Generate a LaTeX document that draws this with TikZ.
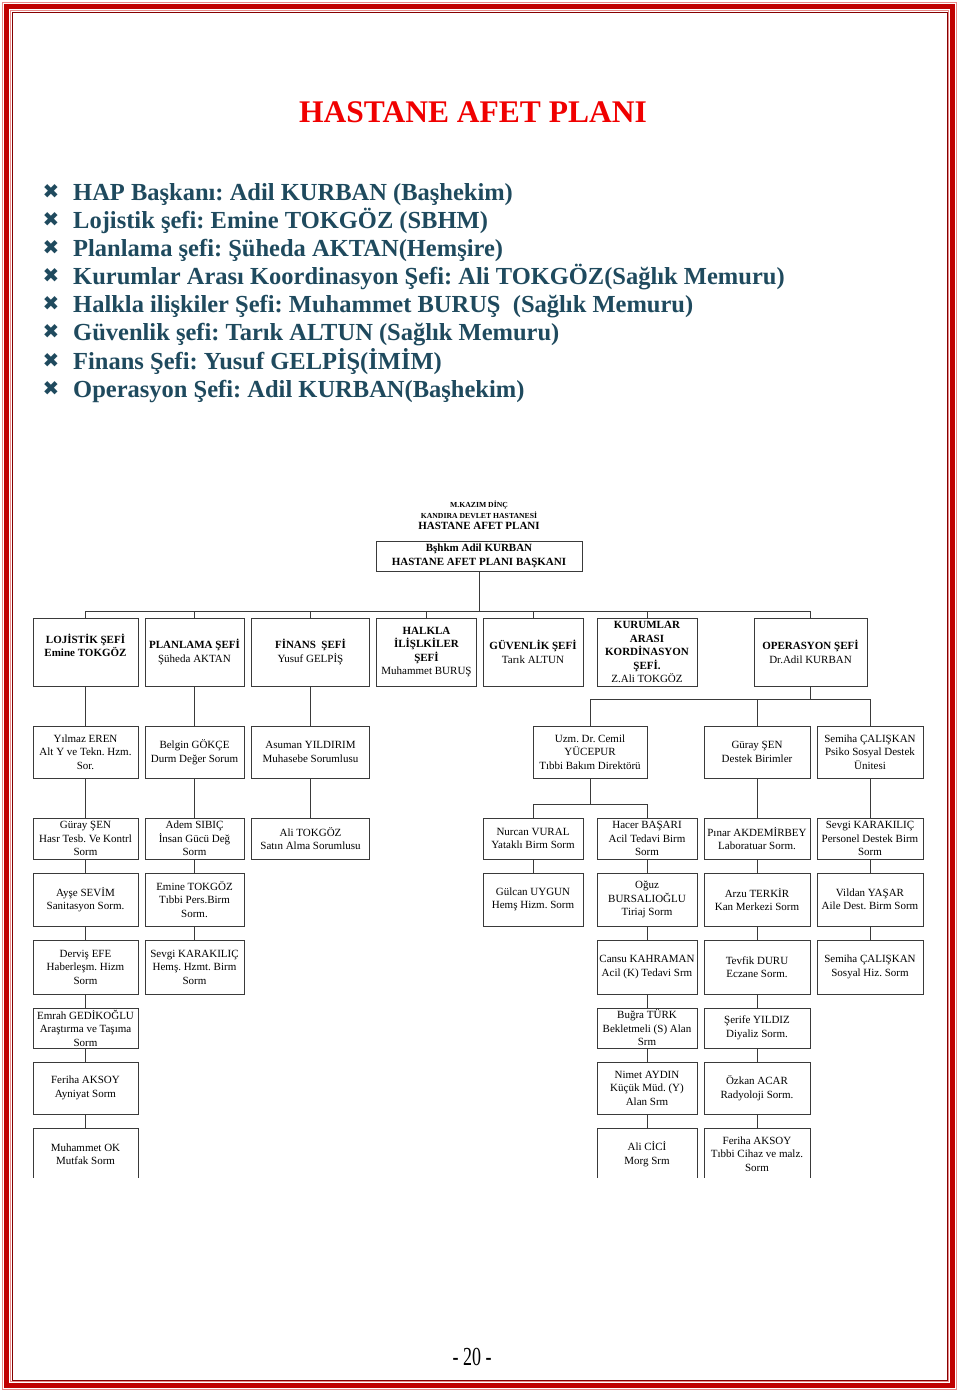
\documentclass[tikz,border=0pt]{standalone}
\usepackage{fontspec}
\setmainfont{Liberation Serif}
\newfontfamily\isaret{DejaVu Sans}
\usetikzlibrary{positioning}
\frenchspacing

\definecolor{cerceve}{HTML}{C00000}
\definecolor{pembe}{HTML}{E88A8A}
\definecolor{koyu}{HTML}{1F4A5E}
\definecolor{cizgi}{HTML}{3A3A3A}
\definecolor{baslikrenk}{HTML}{F00000}

\begin{document}
\begin{tikzpicture}[x=1pt, y=-1pt,
    kutu/.style 2 args={draw=cizgi, line width=0.8pt, align=center, inner sep=0pt,
        minimum width=#1, minimum height=#2, font=\fontsize{11}{13.5}\selectfont},
    bag/.style={draw=cizgi, line width=0.8pt},
    madde/.style={anchor=base west, inner sep=0pt, text=koyu,
        font=\fontsize{24.5}{28}\selectfont\bfseries}]
  \useasboundingbox (0,0) rectangle (960,1396);

  % sayfa cercevesi
  \draw[pembe, line width=1pt] (2.5,2.5) rectangle (956.5,1389.5);
  \draw[cerceve, line width=5pt] (6.5,6.5) rectangle (952.5,1385.5);
  \draw[pembe, line width=1.2pt] (10.5,10.5) rectangle (948.5,1381.5);
  \draw[cerceve!70!black, line width=0.5pt] (12,12) rectangle (947,1380);

  % baslik ve maddeler
  \node[text=baslikrenk, font=\fontsize{31.5}{31.5}\selectfont\bfseries] (baslik) at (473,112) {HASTANE AFET PLANI};
  \foreach \t [count=\i] in {HAP Başkanı: Adil KURBAN (Başhekim),
      Lojistik şefi: Emine TOKGÖZ (SBHM),
      Planlama şefi: Şüheda AKTAN(Hemşire),
      Kurumlar Arası Koordinasyon Şefi: Ali TOKGÖZ(Sağlık Memuru),
      Halkla ilişkiler Şefi: Muhammet BURUŞ\ \ (Sağlık Memuru),
      Güvenlik şefi: Tarık ALTUN (Sağlık Memuru),
      Finans Şefi: Yusuf GELPİŞ(İMİM),
      Operasyon Şefi: Adil KURBAN(Başhekim)} {
    \node[madde] (madde\i) at (73,172+28.15*\i) {\t};
    \node[anchor=base, inner sep=0pt, text=koyu, font=\isaret\fontsize{20}{20}\selectfont]
      (isaret\i) at (51,170+28.15*\i) {✖};
  }

  % teskilat semasi
  \node[kutu={206}{30}, font=\fontsize{11}{13.5}\selectfont\bfseries] (baskan) at (479,556)
    {Bşhkm Adil KURBAN\\HASTANE AFET PLANI BAŞKANI};
  \node[inner sep=0pt, font=\fontsize{11}{11}\selectfont\bfseries, above=11pt of baskan] (plan) {HASTANE AFET PLANI};
  \node[inner sep=0pt, font=\fontsize{7.7}{7.7}\selectfont\bfseries, above=3pt of plan] (hastane) {KANDIRA DEVLET HASTANESİ};
  \node[inner sep=0pt, font=\fontsize{7.7}{7.7}\selectfont\bfseries, above=2pt of hastane] (kazim) {M.KAZIM DİNÇ};

  % sefler
  \node[kutu={105}{68}] (lojistik) at (85.5,652) {\textbf{LOJİSTİK ŞEFİ}\\\textbf{Emine TOKGÖZ}\\\mbox{}};
  \node[kutu={99}{68}] (planlama) at (194.5,652) {\textbf{PLANLAMA ŞEFİ}\\Şüheda AKTAN};
  \node[kutu={118}{68}] (finans) at (310.5,652) {\textbf{FİNANS\ \ ŞEFİ}\\Yusuf GELPİŞ};
  \node[kutu={100}{68}] (halkla) at (426.5,652) {\textbf{HALKLA}\\\textbf{İLİŞLKİLER}\\\textbf{ŞEFİ}\\Muhammet BURUŞ};
  \node[kutu={100}{68}] (guvenlik) at (533,652) {\textbf{GÜVENLİK ŞEFİ}\\Tarık ALTUN};
  \node[kutu={100}{68}] (kurumlar) at (647,652) {\textbf{KURUMLAR}\\\textbf{ARASI}\\\textbf{KORDİNASYON}\\\textbf{ŞEFİ.}\\Z.Ali TOKGÖZ};
  \node[kutu={113}{68}] (operasyon) at (810.5,652) {\textbf{OPERASYON ŞEFİ}\\Dr.Adil KURBAN};

  % 3. sira
  \node[kutu={105}{52}] (yilmaz) at (85.5,752) {Yılmaz EREN\\Alt Y ve Tekn. Hzm.\\Sor.};
  \node[kutu={99}{52}] (belgin) at (194.5,752) {Belgin GÖKÇE\\Durm Değer Sorum};
  \node[kutu={118}{52}] (asuman) at (310.5,752) {Asuman YILDIRIM\\Muhasebe Sorumlusu};
  \node[kutu={114}{52}] (cemil) at (590,752) {Uzm. Dr. Cemil\\YÜCEPUR\\Tıbbi Bakım Direktörü};
  \node[kutu={106}{52}] (gurayd) at (757,752) {Güray ŞEN\\Destek Birimler};
  \node[kutu={106}{52}] (semihap) at (870,752) {Semiha ÇALIŞKAN\\Psiko Sosyal Destek\\Ünitesi};

  % 4. sira
  \node[kutu={105}{41}] (guraysen) at (85.5,838.5) {Güray ŞEN\\Hasr Tesb. Ve Kontrl\\Sorm};
  \node[kutu={99}{41}] (adem) at (194.5,838.5) {Adem SIBIÇ\\İnsan Gücü Değ\\Sorm};
  \node[kutu={118}{41}] (ali) at (310.5,838.5) {Ali TOKGÖZ\\Satın Alma Sorumlusu};
  \node[kutu={100}{41}] (nurcan) at (533,838.5) {Nurcan VURAL\\Yataklı Birm Sorm};
  \node[kutu={100}{41}] (hacer) at (647,838.5) {Hacer BAŞARI\\Acil Tedavi Birm\\Sorm};
  \node[kutu={106}{41}] (pinar) at (757,838.5) {Pınar AKDEMİRBEY\\Laboratuar Sorm.};
  \node[kutu={106}{41}] (sevgip) at (870,838.5) {Sevgi KARAKILIÇ\\Personel Destek Birm\\Sorm};

  % 5. sira
  \node[kutu={105}{53}] (ayse) at (85.5,899.5) {Ayşe SEVİM\\Sanitasyon Sorm.};
  \node[kutu={99}{53}] (emine) at (194.5,899.5) {Emine TOKGÖZ\\Tıbbi Pers.Birm\\Sorm.};
  \node[kutu={100}{53}] (gulcan) at (533,899.5) {Gülcan UYGUN\\Hemş Hizm. Sorm};
  \node[kutu={100}{53}] (oguz) at (647,899.5) {Oğuz\\BURSALIOĞLU\\Tiriaj Sorm};
  \node[kutu={106}{53}] (arzu) at (757,899.5) {Arzu TERKİR\\Kan Merkezi Sorm};
  \node[kutu={106}{53}] (vildan) at (870,899.5) {Vildan YAŞAR\\Aile Dest. Birm Sorm};

  % 6. sira
  \node[kutu={105}{54}] (dervis) at (85.5,967) {Derviş EFE\\Haberleşm. Hizm\\Sorm};
  \node[kutu={99}{54}] (sevgih) at (194.5,967) {Sevgi KARAKILIÇ\\Hemş. Hzmt. Birm\\Sorm};
  \node[kutu={100}{54}] (cansu) at (647,967) {Cansu KAHRAMAN\\Acil (K) Tedavi Srm};
  \node[kutu={106}{54}] (tevfik) at (757,967) {Tevfik DURU\\Eczane Sorm.};
  \node[kutu={106}{54}] (semihas) at (870,967) {Semiha ÇALIŞKAN\\Sosyal Hiz. Sorm};

  % 7. ve 8. sira
  \node[kutu={105}{40}] (emrah) at (85.5,1028) {Emrah GEDİKOĞLU\\Araştırma ve Taşıma\\Sorm};
  \node[kutu={100}{40}] (bugra) at (647,1028) {Buğra TÜRK\\Bekletmeli (S) Alan\\Srm};
  \node[kutu={106}{40}] (serife) at (757,1028) {Şerife YILDIZ\\Diyaliz Sorm.};
  \node[kutu={105}{52}] (ferihaa) at (85.5,1088) {Feriha AKSOY\\Ayniyat Sorm};
  \node[kutu={100}{52}] (nimet) at (647,1088) {Nimet AYDIN\\Küçük Müd. (Y)\\Alan Srm};
  \node[kutu={106}{52}] (ozkan) at (757,1088) {Özkan ACAR\\Radyoloji Sorm.};

  % son sira, alti kesik
  \begin{scope}
    \clip (0,0) rectangle (960,1177.5);
    \node[kutu={105}{52}] (muhammet) at (85.5,1154) {Muhammet OK\\Mutfak Sorm};
    \node[kutu={100}{52}] (alicici) at (647,1154) {Ali CİCİ\\Morg Srm};
    \node[kutu={106}{52}] (feriht) at (757,1154) {Feriha AKSOY\\Tıbbi Cihaz ve malz.\\Sorm};
  \end{scope}

  % baglantilar
  \foreach \c in {lojistik,planlama,finans,halkla,guvenlik,kurumlar,operasyon}
    \draw[bag] (baskan.south) -- ++(0,40) -| (\c.north);
  \foreach \c in {cemil,gurayd,semihap}
    \draw[bag] (operasyon.south) -- ++(0,13) -| (\c.north);
  \foreach \c in {nurcan,hacer}
    \draw[bag] (cemil.south) -- ++(0,26) -| (\c.north);
  \foreach \a/\b in {lojistik/yilmaz, planlama/belgin, finans/asuman,
      yilmaz/guraysen, guraysen/ayse, ayse/dervis, dervis/emrah, emrah/ferihaa, ferihaa/muhammet,
      belgin/adem, adem/emine, emine/sevgih, asuman/ali, nurcan/gulcan,
      hacer/oguz, oguz/cansu, cansu/bugra, bugra/nimet, nimet/alicici,
      gurayd/pinar, pinar/arzu, arzu/tevfik, tevfik/serife, serife/ozkan, ozkan/feriht,
      semihap/sevgip, sevgip/vildan, vildan/semihas}
    \draw[bag] (\a.south) -- (\b.north);

  % sayfa numarasi
  \node[font=\fontsize{20}{20}\selectfont] (sayfa) at (472,1357) {\scalebox{0.9}[1.3]{- 20 -}};
\end{tikzpicture}
\end{document}
